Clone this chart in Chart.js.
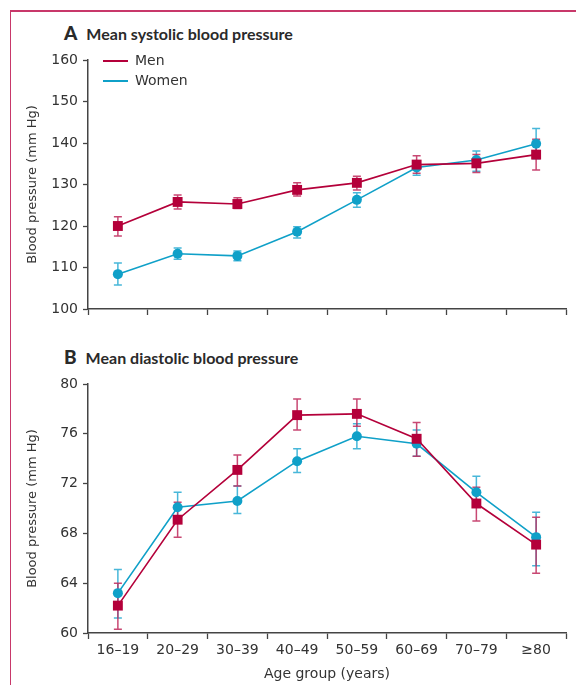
<!DOCTYPE html>
<html>
<head>
<meta charset="utf-8">
<script src="https://cdn.jsdelivr.net/npm/chart.js@4/dist/chart.umd.min.js"></script>
<style>
  body { margin: 0; background: #fff; }
  #page { position: relative; width: 576px; height: 685px; overflow: hidden; font-family: "DejaVu Sans", sans-serif; }
  #frame { position: absolute; left: 10px; top: 10px; right: -2px; bottom: -2px; border-left: 1.5px solid #c8386a; border-top: 2px solid #c8386a; }
  .panel-title { position: absolute; left: 64px; font-family: Lato, sans-serif; font-weight: bold; color: #2a2a2a; font-size: 16px; white-space: nowrap; }
  .panel-title b { font-size: 19px; margin-right: 9px; }
  .wrap { position: absolute; left: 0; width: 576px; }
  #legend { position: absolute; left: 103px; top: 50px; font-size: 14px; color: #333; }
  #legend div { height: 20px; line-height: 20px; white-space: nowrap; }
  #legend span.sw { display: inline-block; width: 25px; height: 2px; vertical-align: middle; margin-right: 7px; }
</style>
</head>
<body>
<div id="page">
  <div id="frame"></div>
  <div class="panel-title" style="top:21px"><b>A</b>Mean systolic blood pressure</div>
  <div class="panel-title" style="top:345px"><b>B</b>Mean diastolic blood pressure</div>
  <div class="wrap" style="top:45px;height:290px"><canvas id="chartA" width="576" height="290"></canvas></div>
  <div class="wrap" style="top:345px;height:340px"><canvas id="chartB" width="576" height="340"></canvas></div>
  <div id="legend"></div>
</div>
<script>
const ageGroups = ['16–19', '20–29', '30–39', '40–49', '50–59', '60–69', '70–79', '≥80'];
const seriesNames = ['Men', 'Women'];

// panel A: systolic
const systolicMen = [120.0, 125.8, 125.3, 128.7, 130.4, 134.8, 135.1, 137.2];
const systolicMenLow = [117.6, 124.1, 124.2, 127.2, 128.7, 132.7, 132.9, 133.5];
const systolicMenHigh = [122.2, 127.5, 126.8, 130.4, 132.0, 136.9, 137.2, 140.9];
const systolicWomen = [108.4, 113.3, 112.8, 118.6, 126.3, 134.1, 135.9, 139.8];
const systolicWomenLow = [105.8, 112.0, 111.6, 117.1, 124.5, 132.2, 133.2, 136.2];
const systolicWomenHigh = [111.1, 114.7, 114.0, 119.8, 128.0, 135.7, 138.1, 143.5];

// panel B: diastolic
const diastolicMen = [62.2, 69.1, 73.1, 77.5, 77.6, 75.6, 70.4, 67.1];
const diastolicMenLow = [60.3, 67.7, 71.8, 76.3, 76.6, 74.2, 69.0, 64.8];
const diastolicMenHigh = [64.0, 70.5, 74.3, 78.8, 78.8, 76.9, 71.7, 69.3];
const diastolicWomen = [63.2, 70.1, 70.6, 73.8, 75.8, 75.2, 71.3, 67.7];
const diastolicWomenLow = [61.2, 68.9, 69.6, 72.9, 74.8, 74.2, 70.2, 65.4];
const diastolicWomenHigh = [65.1, 71.3, 71.8, 74.8, 76.8, 76.3, 72.6, 69.7];

const menColor = '#b4003a';
const womenColor = '#0fa0c8';
const menErr = 'rgba(190, 40, 90, 0.85)';
const womenErr = 'rgba(40, 170, 210, 0.85)';
const axisColor = '#444';

// vertical error bars with caps, drawn under the markers
const errorBars = {
    id: 'errorBars',
    beforeDatasetsDraw(chart) {
        const ctx = chart.ctx;
        const x = chart.scales.x, y = chart.scales.y;
        chart.data.datasets.slice().reverse().forEach(ds => {
            ctx.save();
            ctx.strokeStyle = ds.errColor;
            ctx.lineWidth = 1.5;
            ds.data.forEach((v, j) => {
                const px = x.getPixelForValue(j);
                const lo = y.getPixelForValue(ds.errLow[j]);
                const hi = y.getPixelForValue(ds.errHigh[j]);
                ctx.beginPath();
                ctx.moveTo(px, lo); ctx.lineTo(px, hi);
                ctx.moveTo(px - 4, lo); ctx.lineTo(px + 4, lo);
                ctx.moveTo(px - 4, hi); ctx.lineTo(px + 4, hi);
                ctx.stroke();
            });
            ctx.restore();
        });
    }
};

function makeDatasets(men, menLow, menHigh, women, womenLow, womenHigh) {
    return [{
        label: seriesNames[0],
        data: men, errLow: menLow, errHigh: menHigh, errColor: menErr,
        borderColor: menColor, backgroundColor: menColor, borderWidth: 1.6,
        pointStyle: 'rect', pointRadius: 7, pointBorderWidth: 0, tension: 0
    }, {
        label: seriesNames[1],
        data: women, errLow: womenLow, errHigh: womenHigh, errColor: womenErr,
        borderColor: womenColor, backgroundColor: womenColor, borderWidth: 1.6,
        pointStyle: 'circle', pointRadius: 5, pointBorderWidth: 0, tension: 0
    }];
}

function makeOptions(yMin, yMax, step, topPad, xHeight, showX) {
    return {
        responsive: false,
        animation: false,
        layout: { padding: { left: 0, right: 10, top: topPad, bottom: 0 } },
        plugins: { legend: { display: false }, tooltip: { enabled: false } },
        scales: {
            x: {
                type: 'category', offset: true,
                grid: { offset: true, drawOnChartArea: false, drawTicks: true, tickLength: 6, tickColor: axisColor, tickWidth: 1.3 },
                border: { color: axisColor, width: 1.5 },
                ticks: { display: showX, color: '#333', font: { family: 'DejaVu Sans', size: 14 }, padding: 3, maxRotation: 0, autoSkip: false },
                title: { display: showX, text: 'Age group (years)', color: '#333', font: { family: 'DejaVu Sans', size: 14 }, padding: { top: 0, bottom: 2 } },
                afterFit(s) { s.height = xHeight; }
            },
            y: {
                min: yMin, max: yMax,
                grid: { drawOnChartArea: false, drawTicks: true, tickLength: 5, tickColor: axisColor, tickWidth: 1.3 },
                border: { color: axisColor, width: 1.5 },
                ticks: { stepSize: step, color: '#333', font: { family: 'DejaVu Sans', size: 14 }, padding: 5 },
                title: { display: true, text: 'Blood pressure (mm Hg)', color: '#333', font: { family: 'DejaVu Sans', size: 13 }, padding: { top: 25, bottom: 0 } },
                afterFit(s) { s.width = 88; }
            }
        }
    };
}

const chartA = new Chart(document.getElementById('chartA'), {
    type: 'line',
    data: { labels: ageGroups, datasets: makeDatasets(systolicMen, systolicMenLow, systolicMenHigh, systolicWomen, systolicWomenLow, systolicWomenHigh) },
    options: makeOptions(100, 160, 10, 15, 26, false),
    plugins: [errorBars]
});

const chartB = new Chart(document.getElementById('chartB'), {
    type: 'line',
    data: { labels: ageGroups, datasets: makeDatasets(diastolicMen, diastolicMenLow, diastolicMenHigh, diastolicWomen, diastolicWomenLow, diastolicWomenHigh) },
    options: makeOptions(60, 80, 4, 39, 52, true),
    plugins: [errorBars]
});

// legend for panel A
const legend = document.getElementById('legend');
chartA.data.datasets.forEach(ds => {
    const row = document.createElement('div');
    row.innerHTML = '<span class="sw" style="background:' + ds.borderColor + '"></span>' + ds.label;
    legend.appendChild(row);
});
</script>
</body>
</html>
